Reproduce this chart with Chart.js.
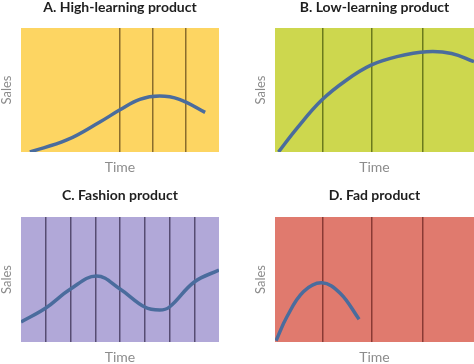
<!DOCTYPE html>
<html>
<head>
<meta charset="utf-8">
<script src="https://cdn.jsdelivr.net/npm/chart.js@4.4.1/dist/chart.umd.min.js"></script>
<style>
  html, body { margin: 0; padding: 0; background: #ffffff; }
  #wrap { position: relative; width: 474px; height: 364px; overflow: hidden; }
  canvas { position: absolute; }
</style>
</head>
<body>
<div id="wrap">
  <canvas id="chartA" width="237" height="182" style="left:0;top:0"></canvas>
  <canvas id="chartB" width="237" height="182" style="left:237px;top:0"></canvas>
  <canvas id="chartC" width="237" height="182" style="left:0;top:182px"></canvas>
  <canvas id="chartD" width="237" height="182" style="left:237px;top:182px"></canvas>
</div>
<script>
// panel titles
const titles = ['A. High-learning product', 'B. Low-learning product', 'C. Fashion product', 'D. Fad product'];

// A: high-learning product (time in stage units, sales 0-10)
const highLearningTime = [0.27, 1.39, 2.39, 3.0, 3.6, 4.2, 4.8, 5.58];
const highLearningSales = [0, 0.97, 2.42, 3.4, 4.25, 4.52, 4.25, 3.2];
const highLearningStages = [3, 4, 5];

// B: low-learning product
const lowLearningTime = [0.07, 0.44, 0.94, 1.44, 1.94, 2.45, 3.05, 3.55, 4.0];
const lowLearningSales = [0, 1.91, 4.19, 5.81, 7.02, 7.69, 8.09, 7.95, 7.28];
const lowLearningStages = [0.95, 1.95, 2.97];

// C: fashion product
const fashionTime = [0, 1, 2, 3.05, 4, 5, 5.6, 6, 7, 8];
const fashionSales = [1.6, 2.72, 4.24, 5.28, 4.24, 2.8, 2.56, 2.8, 4.8, 5.76];
const fashionStages = [1, 2, 3, 4, 5, 6, 7];

// D: fad product
const fadTime = [0.02, 0.24, 0.57, 0.94, 1.31, 1.69];
const fadSales = [0.1, 2.02, 4.02, 4.74, 3.9, 1.82];
const fadStages = [0.95, 1.95, 2.97];

const LINE_COLOR = '#4a6c9d';
const FONT = 'Lato, "Open Sans", sans-serif';

const bgPlugin = {
    id: 'plotBg',
    beforeDraw(chart, args, opts) {
        const { ctx, chartArea: a } = chart;
        ctx.save();
        ctx.fillStyle = opts.color;
        ctx.fillRect(a.left, a.top, a.right - a.left, a.bottom - a.top);
        ctx.restore();
    }
};

function makePanel(id, cfg) {
    new Chart(document.getElementById(id), {
        type: 'line',
        data: {
            datasets: [{
                data: cfg.time.map((t, i) => ({ x: t, y: cfg.sales[i] })),
                borderColor: LINE_COLOR,
                borderWidth: 3.5,
                pointRadius: 0,
                tension: 0.4,
                fill: false
            }]
        },
        options: {
            responsive: false,
            animation: false,
            devicePixelRatio: 1,
            layout: { padding: cfg.padding },
            plugins: {
                legend: { display: false },
                tooltip: { enabled: false },
                plotBg: { color: cfg.bg },
                title: {
                    display: true,
                    text: cfg.title,
                    fullSize: false,
                    color: '#1e1e1e',
                    font: { family: FONT, size: 14, weight: 'bold', lineHeight: 1 },
                    padding: cfg.titlePad
                }
            },
            scales: {
                x: {
                    type: 'linear',
                    min: 0, max: cfg.xMax,
                    afterBuildTicks: s => { s.ticks = cfg.stages.map(v => ({ value: v })); },
                    ticks: { display: false },
                    border: { display: false },
                    grid: { color: cfg.gridColor, lineWidth: 1.5, drawTicks: false },
                    title: {
                        display: true, text: 'Time', color: '#8c8c8c',
                        font: { family: FONT, size: 14, lineHeight: 1 },
                        padding: cfg.timePad
                    }
                },
                y: {
                    min: 0, max: 10,
                    ticks: { display: false },
                    border: { display: false },
                    grid: { display: false, drawTicks: false },
                    title: {
                        display: true, text: 'Sales', color: '#8c8c8c',
                        font: { family: FONT, size: 13, lineHeight: 1 },
                        padding: { top: 0, bottom: 8 }
                    }
                }
            }
        },
        plugins: [bgPlugin]
    });
}

makePanel('chartA', {
    title: titles[0], time: highLearningTime, sales: highLearningSales, stages: highLearningStages,
    xMax: 6, bg: '#fdd562', gridColor: '#8a6d2c',
    padding: { left: 0, right: 18, top: 0, bottom: 0 },
    titlePad: { top: 0, bottom: 14 }, timePad: { top: 8.5, bottom: 7.5 }
});
makePanel('chartB', {
    title: titles[1], time: lowLearningTime, sales: lowLearningSales, stages: lowLearningStages,
    xMax: 4, bg: '#cdd74e', gridColor: '#6b7a1c',
    padding: { left: 17, right: 0, top: 0, bottom: 0 },
    titlePad: { top: 0, bottom: 14 }, timePad: { top: 8.5, bottom: 7.5 }
});
makePanel('chartC', {
    title: titles[2], time: fashionTime, sales: fashionSales, stages: fashionStages,
    xMax: 8, bg: '#b1a8d8', gridColor: '#564c72',
    padding: { left: 0, right: 18, top: 0, bottom: 0 },
    titlePad: { top: 6, bottom: 15 }, timePad: { top: 8, bottom: 0 }
});
makePanel('chartD', {
    title: titles[3], time: fadTime, sales: fadSales, stages: fadStages,
    xMax: 4, bg: '#e07a6e', gridColor: '#8a3a34',
    padding: { left: 17, right: 0, top: 0, bottom: 0 },
    titlePad: { top: 6, bottom: 15 }, timePad: { top: 8, bottom: 0 }
});
</script>
</body>
</html>
